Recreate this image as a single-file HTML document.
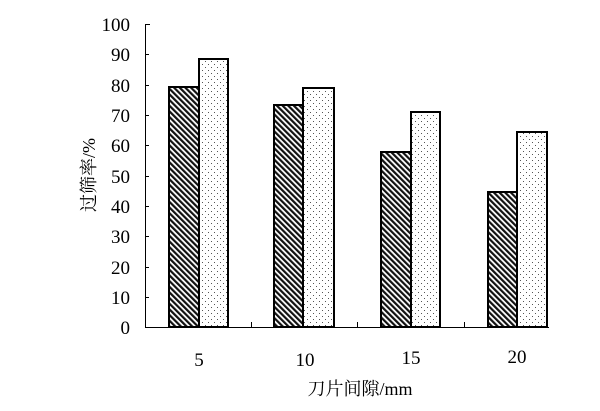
<!DOCTYPE html>
<html><head><meta charset="utf-8"><style>body{margin:0;background:#fff}</style></head><body>
<svg width="600" height="406" viewBox="0 0 600 406" xmlns="http://www.w3.org/2000/svg">
<defs>
<pattern id="h" patternUnits="userSpaceOnUse" width="4" height="4" patternTransform="rotate(-45)">
<rect width="4" height="4" fill="#fff"/><rect x="0" y="0" width="2.2" height="4" fill="#111"/>
</pattern>
<pattern id="d" patternUnits="userSpaceOnUse" width="6" height="6">
<rect width="6" height="6" fill="#fff"/><rect x="1" y="1" width="1" height="1" fill="#555"/><rect x="4" y="4" width="1" height="1" fill="#555"/>
</pattern>
</defs>
<g stroke="#000" stroke-width="1">
<line x1="145.5" y1="24" x2="145.5" y2="327"/>
<line x1="145" y1="327.5" x2="549" y2="327.5"/>
<g>
<line x1="145" y1="24.5" x2="150" y2="24.5"/><line x1="145" y1="54.5" x2="149" y2="54.5"/><line x1="145" y1="85.5" x2="149" y2="85.5"/><line x1="145" y1="115.5" x2="149" y2="115.5"/><line x1="145" y1="145.5" x2="149" y2="145.5"/><line x1="145" y1="176.5" x2="149" y2="176.5"/><line x1="145" y1="206.5" x2="149" y2="206.5"/><line x1="145" y1="236.5" x2="149" y2="236.5"/><line x1="145" y1="267.5" x2="149" y2="267.5"/><line x1="145" y1="297.5" x2="149" y2="297.5"/>
<line x1="251.5" y1="322" x2="251.5" y2="327"/><line x1="357.5" y1="322" x2="357.5" y2="327"/><line x1="464.5" y1="322" x2="464.5" y2="327"/>
</g>
</g>
<g stroke="#000" stroke-width="2">
<rect x="169" y="87" width="30" height="240" fill="url(#h)"/>
<rect x="199" y="59" width="29" height="268" fill="url(#d)"/>
<rect x="274" y="105" width="29" height="222" fill="url(#h)"/>
<rect x="303" y="88" width="31" height="239" fill="url(#d)"/>
<rect x="381" y="152" width="30" height="175" fill="url(#h)"/>
<rect x="411" y="112" width="29" height="215" fill="url(#d)"/>
<rect x="488" y="192" width="29" height="135" fill="url(#h)"/>
<rect x="517" y="132" width="30" height="195" fill="url(#d)"/>
</g>
<g font-family="Liberation Serif, serif" font-size="19" text-anchor="end" fill="#000">
<text x="130" y="31">100</text><text x="130" y="61">90</text><text x="130" y="92">80</text><text x="130" y="122">70</text><text x="130" y="152">60</text><text x="130" y="183">50</text><text x="130" y="213">40</text><text x="130" y="243">30</text><text x="130" y="274">20</text><text x="130" y="304">10</text><text x="130" y="334">0</text>
</g>
<g font-family="Liberation Serif, serif" font-size="19" text-anchor="middle">
<text x="199" y="366">5</text><text x="305" y="366">10</text><text x="411" y="364">15</text><text x="517" y="363">20</text>
</g>
<text x="360" y="395" font-family="Liberation Serif, 'Noto Serif CJK SC', serif" font-size="18" text-anchor="middle">刀片间隙/mm</text>
<text transform="translate(95,175) rotate(-90)" font-family="Liberation Serif, 'Noto Serif CJK SC', serif" font-size="18" text-anchor="middle">过筛率/%</text>
</svg>
</body></html>
